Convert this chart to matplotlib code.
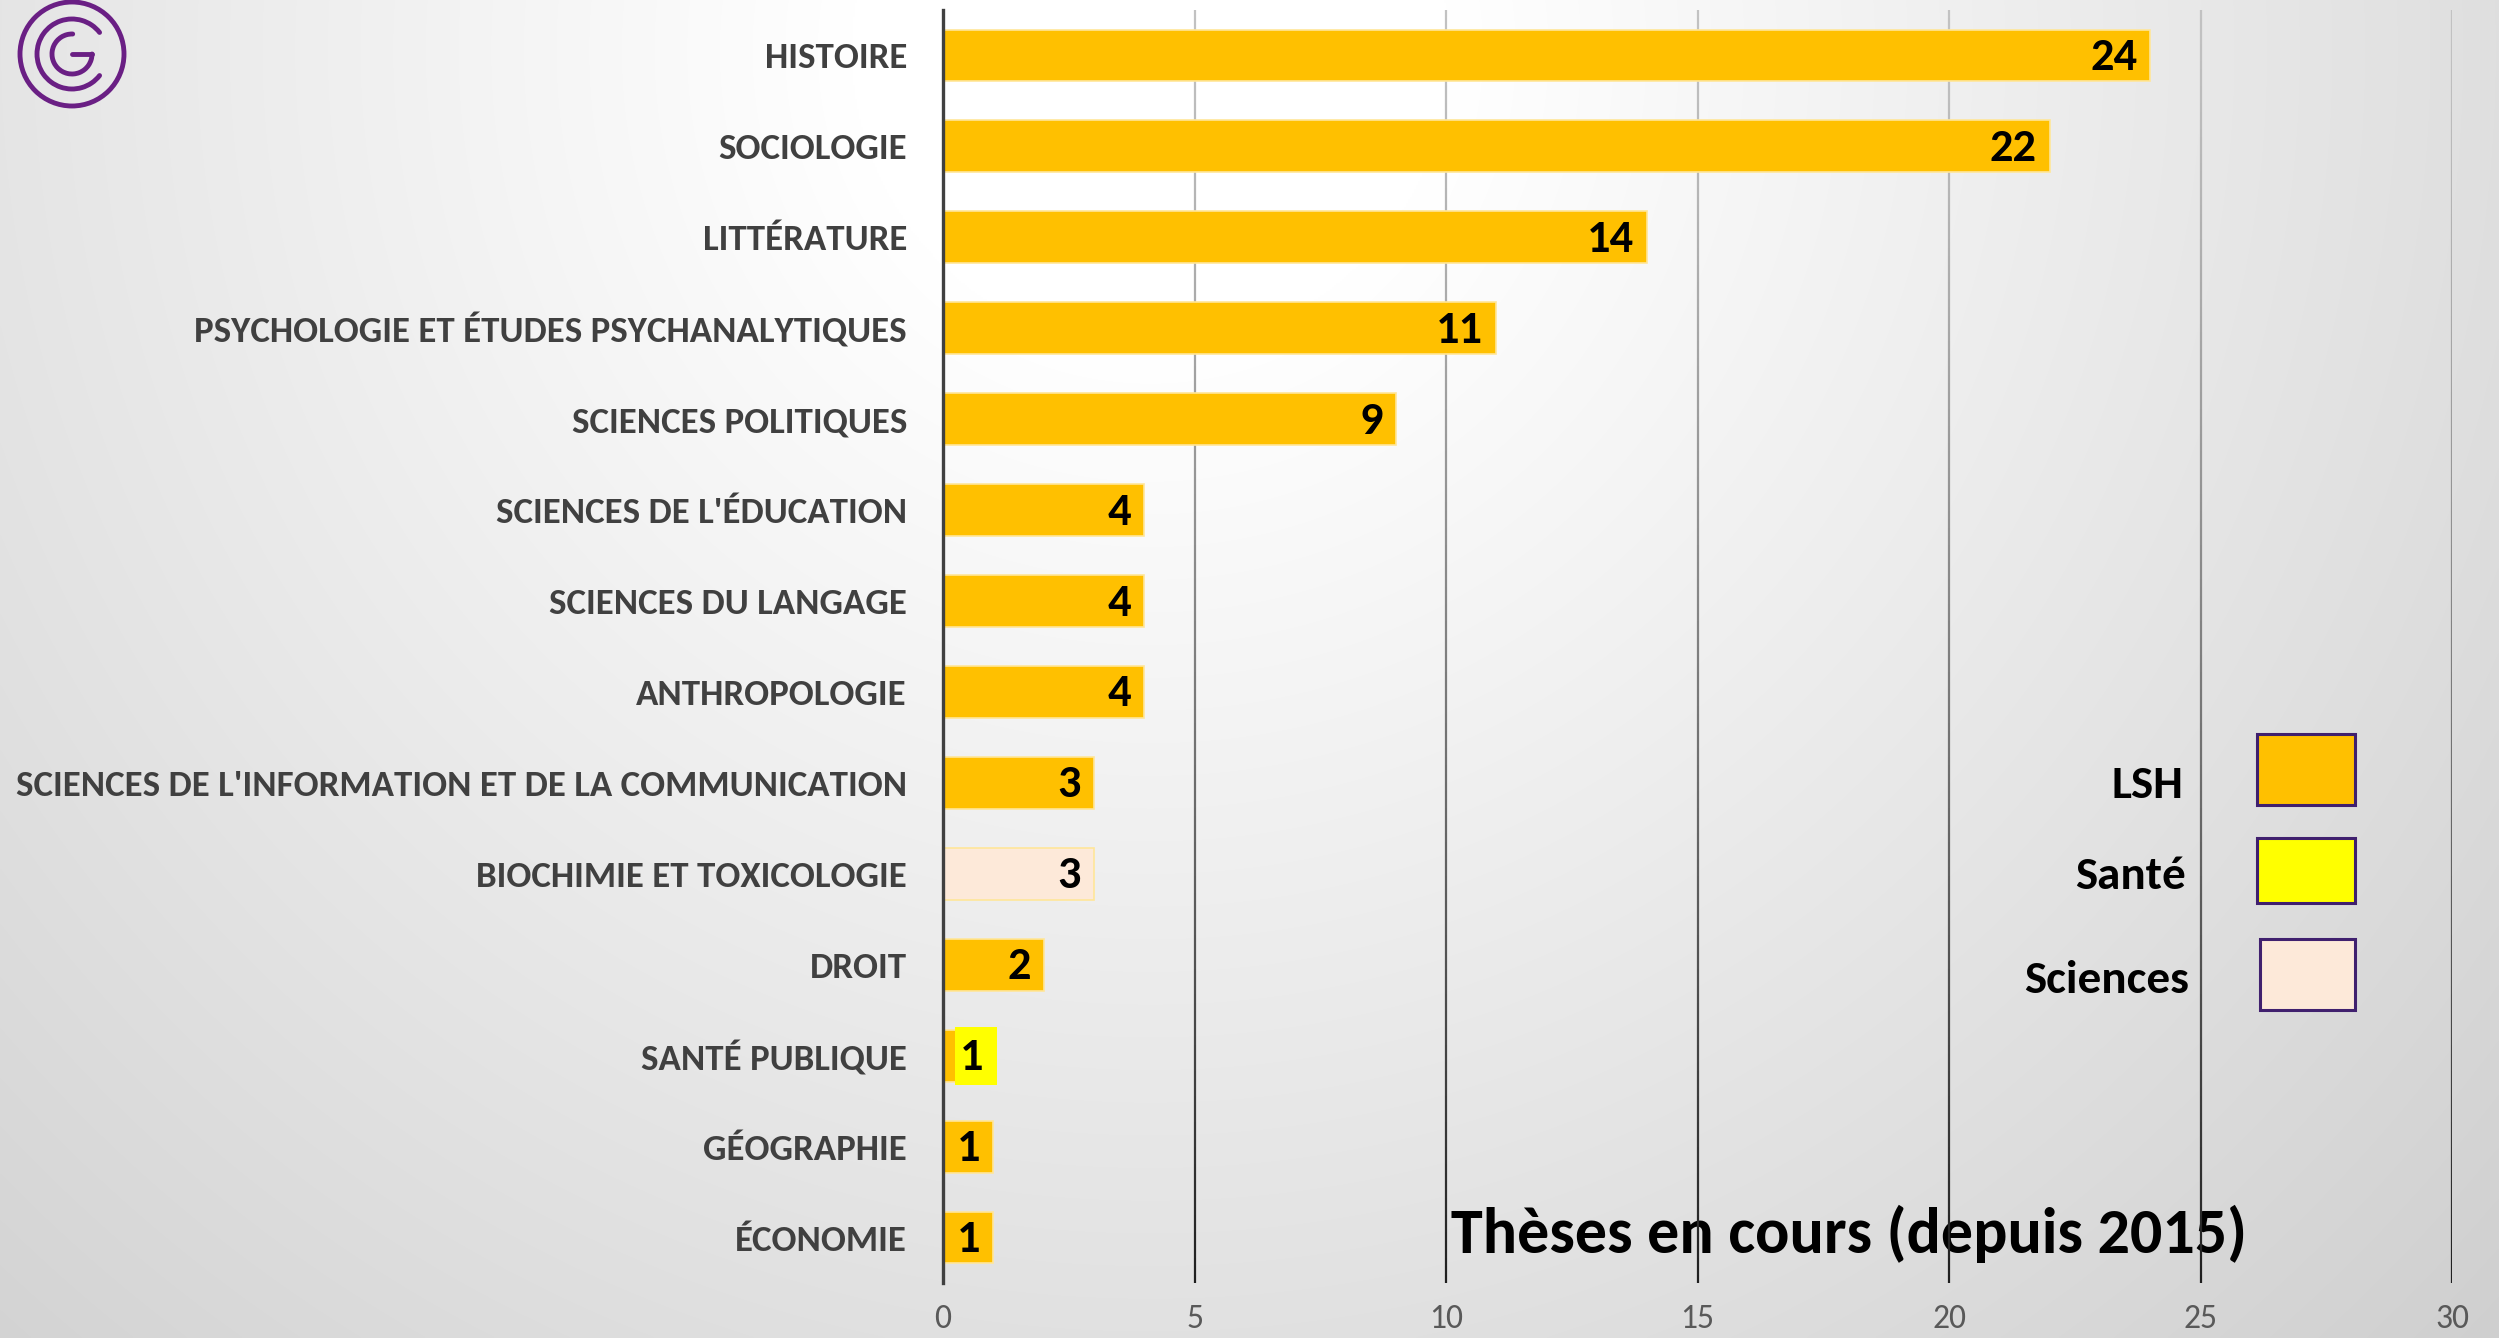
import numpy as np
import matplotlib
matplotlib.use("Agg")
import matplotlib.pyplot as plt
from matplotlib import font_manager
from matplotlib.patches import Rectangle, Arc, Circle
from matplotlib.collections import LineCollection
import matplotlib.transforms as mtransforms

# ---------------- data ----------------
categories = [
    "HISTOIRE", "SOCIOLOGIE", "LITTÉRATURE",
    "PSYCHOLOGIE ET ÉTUDES PSYCHANALYTIQUES", "SCIENCES POLITIQUES",
    "SCIENCES DE L'ÉDUCATION", "SCIENCES DU LANGAGE", "ANTHROPOLOGIE",
    "SCIENCES DE L'INFORMATION ET DE LA COMMUNICATION",
    "BIOCHIMIE ET TOXICOLOGIE", "DROIT", "SANTÉ PUBLIQUE", "GÉOGRAPHIE", "ÉCONOMIE",
]
values = [24, 22, 14, 11, 9, 4, 4, 4, 3, 3, 2, 1, 1, 1]
groups = ["LSH"] * 9 + ["Sciences", "LSH", "Santé", "LSH", "LSH"]
legend_labels = ["LSH", "Santé", "Sciences"]
group_colors = {"LSH": "#FFC000", "Santé": "#FFFF00", "Sciences": "#FDE9D9"}
x_ticks = [0, 5, 10, 15, 20, 25, 30]
title = "Thèses en cours (depuis 2015)"

# ---------------- fonts ----------------
available = {f.name for f in font_manager.fontManager.ttflist}
FONT = "DejaVu Sans"
for cand in ["Carlito", "Calibri", "Lato", "Open Sans"]:
    if cand in available:
        FONT = cand
        break
plt.rcParams["font.family"] = [FONT, "DejaVu Sans"]

W, H, DPI = 2499, 1338, 100
fig = plt.figure(figsize=(W / DPI, H / DPI), dpi=DPI)
renderer = fig.canvas.get_renderer()


def width_px(s, size, weight="bold"):
    t = fig.text(0, 0, s, fontsize=size, fontweight=weight)
    w = t.get_window_extent(renderer).width
    t.remove()
    return w


def fit(s, target, size0, weight="bold"):
    return size0 * target / width_px(s, size0, weight)


cat_fs = fit(max(categories, key=len), 892, 25)
title_fs = fit(title, 796, 46)
legend_fs = fit("Sciences", 165, 33)
val_fs = fit("24", 42, 31) * 1.12
tick_fs = fit("30", 31, 20, "normal") * 1.1

# ---------------- background (radial gradient) ----------------
bg = fig.add_axes([0, 0, 1, 1], zorder=0)
yy, xx = np.mgrid[0:H:2, 0:W:2]
d = np.hypot(xx - 1150, yy - 50)
v = 1.0 - 0.18 * np.clip((d - 300) / 1500, 0, 1.1)
img = np.dstack([v, v, v])
bg.imshow(img, extent=(0, W, H, 0), aspect="auto", interpolation="bilinear", zorder=0)
bg.set_xlim(0, W)
bg.set_ylim(H, 0)
bg.axis("off")

# logo
logo_c = "#6A1F84"
lw_logo = 3.5
bg.add_patch(Circle((72, 54), 52, fill=False, lw=lw_logo, color=logo_c, zorder=2))
a1 = Arc((72, 54), 70, 70, theta1=38, theta2=322, lw=lw_logo, color=logo_c, zorder=2)
a1.set_capstyle("round")
bg.add_patch(a1)
a2 = Arc((72, 54), 40, 40, theta1=0, theta2=272, lw=lw_logo, color=logo_c, zorder=2)
a2.set_capstyle("round")
bg.add_patch(a2)
bg.plot([72, 92], [54, 54], color=logo_c, lw=lw_logo, solid_capstyle="round", zorder=2)

# title (behind gridlines)
bg.text(1451, 1253, title, ha="left", va="baseline", fontsize=title_fs,
        fontweight="bold", color="black", zorder=3)

# legend (drawn as separate shapes)
leg_text_pos = [(2183, 798), (2186, 889), (2189, 993)]
leg_boxes = [(2257, 734, 98, 71), (2257, 838, 98, 65), (2260, 939, 95, 71)]
for lab, (tx, ty), (bx, by, bw, bh) in zip(legend_labels, leg_text_pos, leg_boxes):
    bg.text(tx, ty, lab, ha="right", va="baseline", fontsize=legend_fs,
            fontweight="bold", color="black", zorder=3)
    bg.add_patch(Rectangle((bx, by), bw, bh, facecolor=group_colors[lab],
                           edgecolor="#40206E", lw=2.2, zorder=3))

# ---------------- main axes ----------------
ax = fig.add_axes([943 / W, 1 - 1283 / H, (2452 - 943) / W, (1283 - 10) / H], zorder=1)
ax.patch.set_alpha(0)
ax.set_xlim(0, 30)
ax.set_ylim(13.5, -0.5)

y = np.arange(len(categories))
base_colors = [group_colors["Sciences"] if g == "Sciences" else group_colors["LSH"] for g in groups]
ax.barh(y, values, height=0.57, color=base_colors, edgecolor="#FFE699", linewidth=1.2, zorder=3)

label_ends = list(values)
for i, (g, val) in enumerate(zip(groups, values)):
    if g == "Santé":
        left, right = 0.24 * val, 1.07 * val
        ax.barh(i, right - left, left=left, height=0.64, color=group_colors["Santé"],
                edgecolor="none", zorder=4)
        label_ends[i] = right

for i, (val, end) in enumerate(zip(values, label_ends)):
    ax.annotate(str(val), xy=(end, i), xytext=(-13 * 0.72, -14.5 * 0.72),
                textcoords="offset points", ha="right", va="baseline",
                fontsize=val_fs, fontweight="bold", color="black", zorder=5)

# gradient gridlines
trans = mtransforms.blended_transform_factory(ax.transData, ax.transAxes)
n = 150
ts = np.linspace(0, 1, n + 1)
for xt in x_ticks[1:]:
    segs = [[(xt, 1 - ts[k]), (xt, 1 - ts[k + 1])] for k in range(n)]
    tm = (ts[:-1] + ts[1:]) / 2
    g = 0.76 - 0.64 * tm ** 1.3
    cols = [(c, c, c) for c in g]
    lc = LineCollection(segs, colors=cols, linewidths=1.6, transform=trans, zorder=2)
    ax.add_collection(lc)

for s in ["top", "right", "bottom"]:
    ax.spines[s].set_visible(False)
ax.spines["left"].set_color("#404040")
ax.spines["left"].set_linewidth(2.4)
ax.spines["left"].set_zorder(6)

ax.set_xticks(x_ticks)
ax.set_xticklabels([str(t) for t in x_ticks], fontsize=tick_fs, color="#595959")
ax.tick_params(axis="x", length=0, pad=15)
ax.set_yticks(y)
ax.set_yticklabels(categories, fontsize=cat_fs, fontweight="bold", color="#404040")
ax.tick_params(axis="y", length=0, pad=26)

fig.savefig("out.png", dpi=DPI)
